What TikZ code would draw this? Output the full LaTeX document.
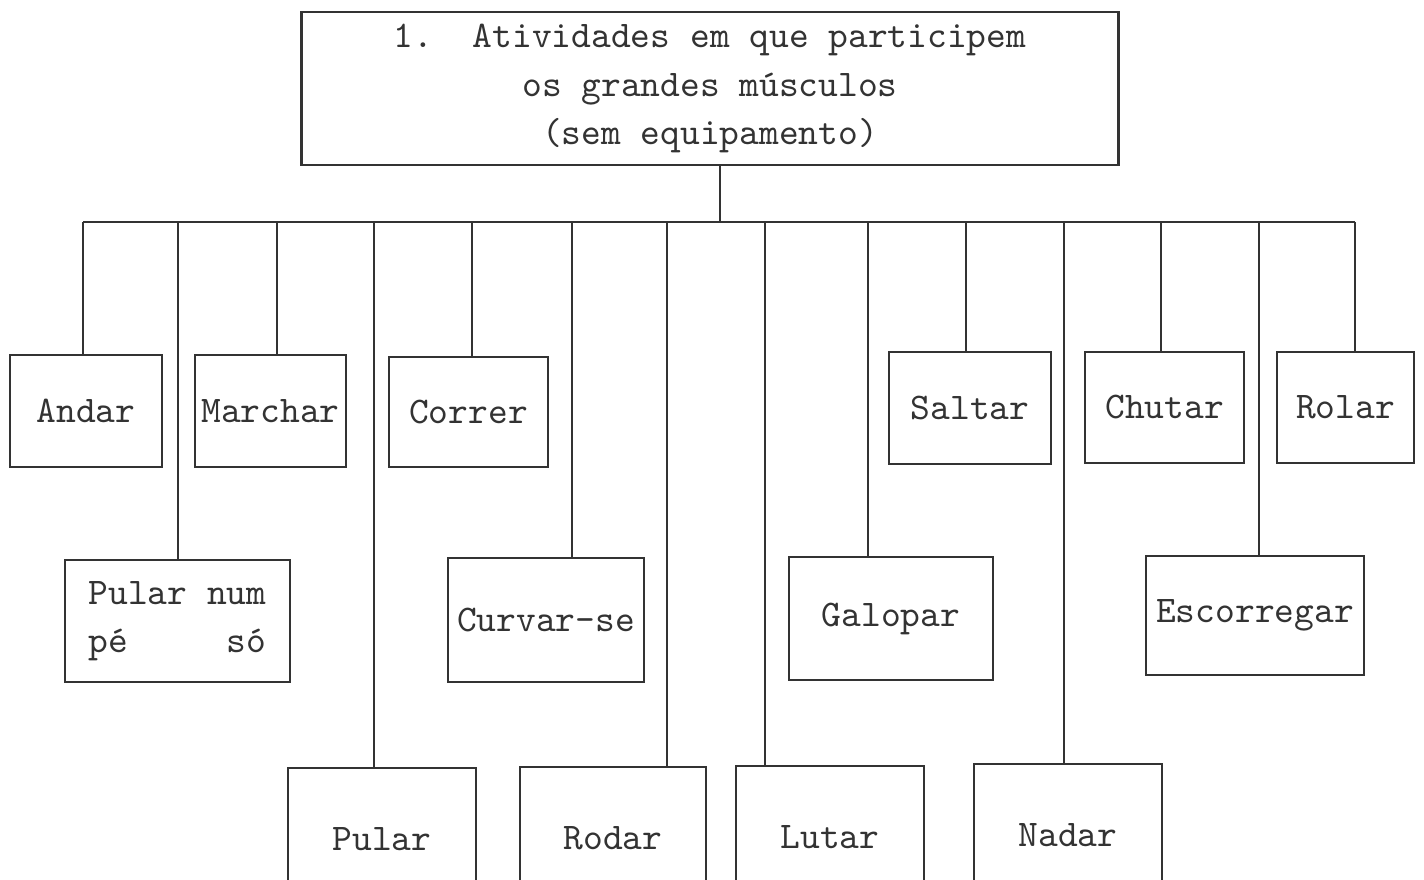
\documentclass[tikz,border=0pt]{standalone}
\usepackage{tikz}

\begin{document}
\begin{tikzpicture}[x=0.01cm, y=-0.01cm, line width=0.6pt, black!80,
    every node/.style={font=\ttfamily\fontsize{10.7}{13.7}\selectfont},
    caixa/.style={draw, inner sep=0pt, align=center}]
    \useasboundingbox (0,0) rectangle (1424,880);
    \clip (0,0) rectangle (1424,880);

    % titulo
    \node[caixa, line width=0.8pt, minimum width=8.16cm, minimum height=1.53cm] (titulo) at (710,88.5)
        {1.~~Atividades em que participem\\os grandes músculos\\(sem equipamento)};

    % barra horizontal
    \coordinate (hub) at (720,222);
    \coordinate (ini) at (83,222);
    \coordinate (fim) at (1355,222);
    \draw (hub |- titulo.south) -- (hub);
    \draw (ini) -- (fim);

    % primeira fila
    \node[caixa, minimum width=1.52cm, minimum height=1.12cm] (andar) at (86,411) {Andar};
    \node[caixa, minimum width=1.51cm, minimum height=1.12cm] (marchar) at (270.5,411) {Marchar};
    \node[caixa, minimum width=1.59cm, minimum height=1.10cm] (correr) at (468.5,412) {Correr};
    \node[caixa, minimum width=1.62cm, minimum height=1.12cm] (saltar) at (970,408) {Saltar};
    \node[caixa, minimum width=1.59cm, minimum height=1.11cm] (chutar) at (1164.5,407.5) {Chutar};
    \node[caixa, minimum width=1.37cm, minimum height=1.11cm] (rolar) at (1345.5,407.5) {Rolar};

    % segunda fila
    \node[caixa, minimum width=2.25cm, minimum height=1.22cm] (pularnum) at (177.5,621)
        {Pular num\\pé\phantom{xxxxx}só};
    \node[caixa, minimum width=1.96cm, minimum height=1.24cm] (curvar) at (546,620) {Curvar-se};
    \node[caixa, minimum width=2.04cm, minimum height=1.23cm] (galopar) at (891,618.5) {Galopar};
    \node[caixa, minimum width=2.18cm, minimum height=1.19cm] (escorregar) at (1255,615.5) {Escorregar};

    % terceira fila (cortada embaixo)
    \node[caixa, minimum width=1.88cm, minimum height=1.42cm] (pular) at (382,839) {Pular};
    \node[caixa, minimum width=1.86cm, minimum height=1.42cm] (rodar) at (613,838) {Rodar};
    \node[caixa, minimum width=1.88cm, minimum height=1.42cm] (lutar) at (830,837) {Lutar};
    \node[caixa, minimum width=1.88cm, minimum height=1.42cm] (nadar) at (1068,835) {Nadar};

    % ligacoes
    \foreach \x/\n in {83/andar, 178/pularnum, 277/marchar, 374/pular, 472/correr,
        572/curvar, 667/rodar, 765/lutar, 868/galopar, 966/saltar, 1064/nadar,
        1161/chutar, 1259/escorregar, 1355/rolar} {
        \coordinate (c\n) at (\x,222);
        \draw (c\n) -- (c\n |- \n.north);
    }
\end{tikzpicture}
\end{document}
